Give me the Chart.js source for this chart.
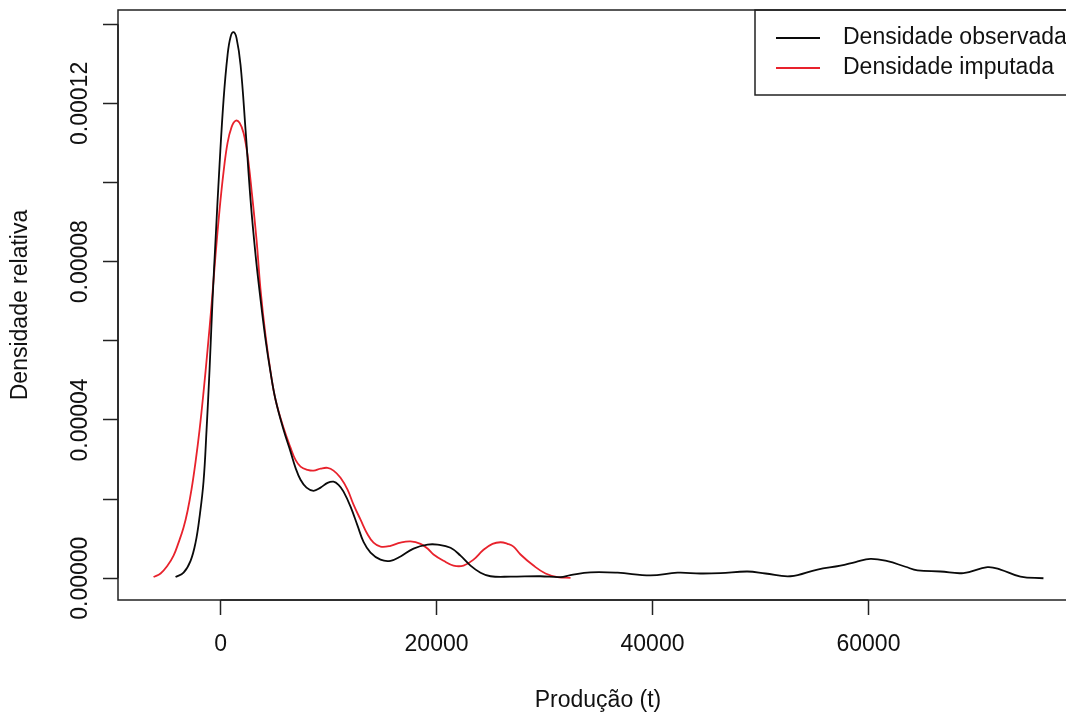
<!DOCTYPE html>
<html>
<head>
<meta charset="utf-8">
<script src="https://cdn.jsdelivr.net/npm/chart.js@4/dist/chart.umd.min.js"></script>
<style>
  html, body { margin: 0; padding: 0; background: #fff; overflow: hidden; }
  #wrap { width: 1090px; height: 716px; position: relative; }
</style>
</head>
<body>
<div id="wrap"><canvas id="c"></canvas></div>
<script>
// Kernel density of production (t): observed vs imputed
const obsX = [-4167,-3426,-2778,-2315,-1944,-1574,-1296,-1019,-741,-463,-93,278,648,926,1204,1481,1852,2315,2778,3241,3704,4167,4630,5093,5833,6481,6944,7407,7963,8611,9259,9907,10463,10926,11389,12037,12685,13241,13889,14815,15741,16667,17870,19167,20093,21296,22222,23148,24074,25000,26852,29630,31481,32407,34259,36759,39815,42315,44444,46296,48796,50463,52778,55278,57407,58796,60185,61759,63426,64537,66667,68796,71019,72222,74074,76204];
const obsY = [0.0000003,0.0000014,0.0000044,0.0000090,0.0000155,0.0000245,0.0000375,0.0000527,0.0000704,0.0000855,0.0001045,0.0001209,0.0001322,0.0001368,0.0001380,0.0001365,0.0001297,0.0001133,0.0000956,0.0000817,0.0000704,0.0000603,0.0000520,0.0000451,0.0000375,0.0000320,0.0000279,0.0000249,0.0000229,0.0000221,0.0000229,0.0000241,0.0000244,0.0000236,0.0000219,0.0000181,0.0000133,0.0000092,0.0000065,0.0000047,0.0000044,0.0000055,0.0000075,0.0000085,0.0000085,0.0000077,0.0000057,0.0000032,0.0000014,0.0000005,0.0000004,0.0000005,0.0000003,0.0000008,0.0000015,0.0000014,0.0000007,0.0000014,0.0000012,0.0000013,0.0000017,0.0000012,0.0000005,0.0000022,0.0000032,0.0000041,0.0000049,0.0000043,0.0000029,0.0000020,0.0000017,0.0000013,0.0000028,0.0000022,0.0000004,0.0000000];

const impX = [-6204,-5556,-4907,-4352,-3889,-3426,-3056,-2685,-2315,-1944,-1574,-1204,-833,-463,-93,278,648,1019,1389,1759,2130,2500,2870,3333,3704,4167,4630,5093,5833,6481,6944,7407,8056,8611,9259,9907,10463,11111,11759,12315,12963,13611,14167,14815,15741,16667,17593,18519,19167,19722,20648,21574,22500,23426,24352,25185,25926,26574,27130,27778,28981,30093,31204,32407];
const impY = [0.0000003,0.0000012,0.0000032,0.0000057,0.0000090,0.0000128,0.0000170,0.0000225,0.0000294,0.0000375,0.0000471,0.0000577,0.0000691,0.0000817,0.0000931,0.0001027,0.0001100,0.0001140,0.0001156,0.0001151,0.0001125,0.0001069,0.0000981,0.0000855,0.0000729,0.0000613,0.0000522,0.0000451,0.0000380,0.0000330,0.0000299,0.0000282,0.0000274,0.0000272,0.0000277,0.0000279,0.0000272,0.0000254,0.0000224,0.0000186,0.0000148,0.0000111,0.0000090,0.0000080,0.0000082,0.0000090,0.0000093,0.0000087,0.0000075,0.0000060,0.0000044,0.0000032,0.0000032,0.0000047,0.0000072,0.0000087,0.0000091,0.0000087,0.0000080,0.0000060,0.0000032,0.0000012,0.0000003,0.0000001];

const seriesNames = ['Densidade observada', 'Densidade imputada'];
const seriesColors = ['#0a0a0a', '#e8222c'];

const xTicks = [0, 20000, 40000, 60000];
const yTicks = [0, 0.00002, 0.00004, 0.00006, 0.00008, 0.00010, 0.00012, 0.00014];
const yLabelTicks = [0, 0.00004, 0.00008, 0.00012];

const xTitle = 'Produção (t)';
const yTitle = 'Densidade relativa';

const FONT = '"Liberation Sans", Arial, Helvetica, sans-serif';
const FSIZE = 23;

const toPoints = (xs, ys) => xs.map((x, i) => ({ x: x, y: ys[i] }));

// frame, rotated y labels, axis titles and legend in base-graphics style
const basePlot = {
  id: 'basePlot',
  afterDraw(chart) {
    const ctx = chart.ctx;
    const a = chart.chartArea;
    const xs = chart.scales.x, ys = chart.scales.y;
    ctx.save();
    ctx.strokeStyle = '#222';
    ctx.lineWidth = 1.5;
    ctx.strokeRect(a.left, a.top, a.right - a.left, a.bottom - a.top);

    // axis lines span first to last tick
    ctx.beginPath();
    ctx.moveTo(xs.getPixelForValue(xTicks[0]), a.bottom);
    ctx.lineTo(xs.getPixelForValue(xTicks[xTicks.length - 1]), a.bottom);
    ctx.moveTo(a.left, ys.getPixelForValue(yTicks[0]));
    ctx.lineTo(a.left, ys.getPixelForValue(yTicks[yTicks.length - 1]));
    ctx.stroke();

    ctx.fillStyle = '#111';
    ctx.font = FSIZE + 'px ' + FONT;
    ctx.textAlign = 'center';
    ctx.textBaseline = 'middle';
    yLabelTicks.forEach(v => {
      const py = ys.getPixelForValue(v);
      ctx.save();
      ctx.translate(81, py);
      ctx.rotate(-Math.PI / 2);
      ctx.fillText(v.toFixed(5), 0, 0);
      ctx.restore();
    });

    ctx.fillText(xTitle, (a.left + a.right) / 2, 701);
    ctx.save();
    ctx.translate(21, (a.top + a.bottom) / 2);
    ctx.rotate(-Math.PI / 2);
    ctx.fillText(yTitle, 0, 0);
    ctx.restore();

    // legend, top-right inside the frame
    const lx = 755, ly = a.top;
    ctx.strokeStyle = '#222';
    ctx.lineWidth = 1.5;
    ctx.strokeRect(lx, ly, a.right - lx, 85);
    ctx.textAlign = 'left';
    chart.data.datasets.forEach((ds, i) => {
      const rowY = ly + 28 + i * 30;
      ctx.strokeStyle = ds.borderColor;
      ctx.lineWidth = 1.8;
      ctx.beginPath();
      ctx.moveTo(776, rowY);
      ctx.lineTo(820, rowY);
      ctx.stroke();
      ctx.fillStyle = '#111';
      ctx.fillText(ds.label, 843, rowY);
    });
    ctx.restore();
  }
};

new Chart(document.getElementById('c'), {
  type: 'line',
  data: {
    datasets: [
      { label: seriesNames[0], data: toPoints(obsX, obsY), borderColor: seriesColors[0] },
      { label: seriesNames[1], data: toPoints(impX, impY), borderColor: seriesColors[1] }
    ]
  },
  options: {
    responsive: true,
    maintainAspectRatio: false,
    devicePixelRatio: 1,
    animation: false,
    layout: { padding: { left: 0, top: 10, right: 12, bottom: 0 } },
    elements: {
      line: { borderWidth: 1.8, tension: 0.4, fill: false, capBezierPoints: true },
      point: { radius: 0, hoverRadius: 0 }
    },
    plugins: { legend: { display: false }, tooltip: { enabled: false } },
    scales: {
      x: {
        type: 'linear',
        min: -9497,
        max: 79404,
        afterBuildTicks: s => { s.ticks = xTicks.map(v => ({ value: v })); },
        afterFit: s => { s.height = 116; },
        border: { display: false },
        grid: { drawOnChartArea: false, drawTicks: true, tickLength: 15, tickWidth: 1.5, tickColor: '#222' },
        ticks: {
          color: '#111',
          font: { family: FONT, size: FSIZE },
          padding: 16,
          maxRotation: 0,
          callback: v => String(v)
        }
      },
      y: {
        type: 'linear',
        min: -0.0000055,
        max: 0.0001436,
        afterBuildTicks: s => { s.ticks = yTicks.map(v => ({ value: v })); },
        afterFit: s => { s.width = 118; },
        border: { display: false },
        grid: { drawOnChartArea: false, drawTicks: true, tickLength: 15, tickWidth: 1.5, tickColor: '#222' },
        ticks: { display: false }
      }
    }
  },
  plugins: [basePlot]
});
</script>
</body>
</html>
